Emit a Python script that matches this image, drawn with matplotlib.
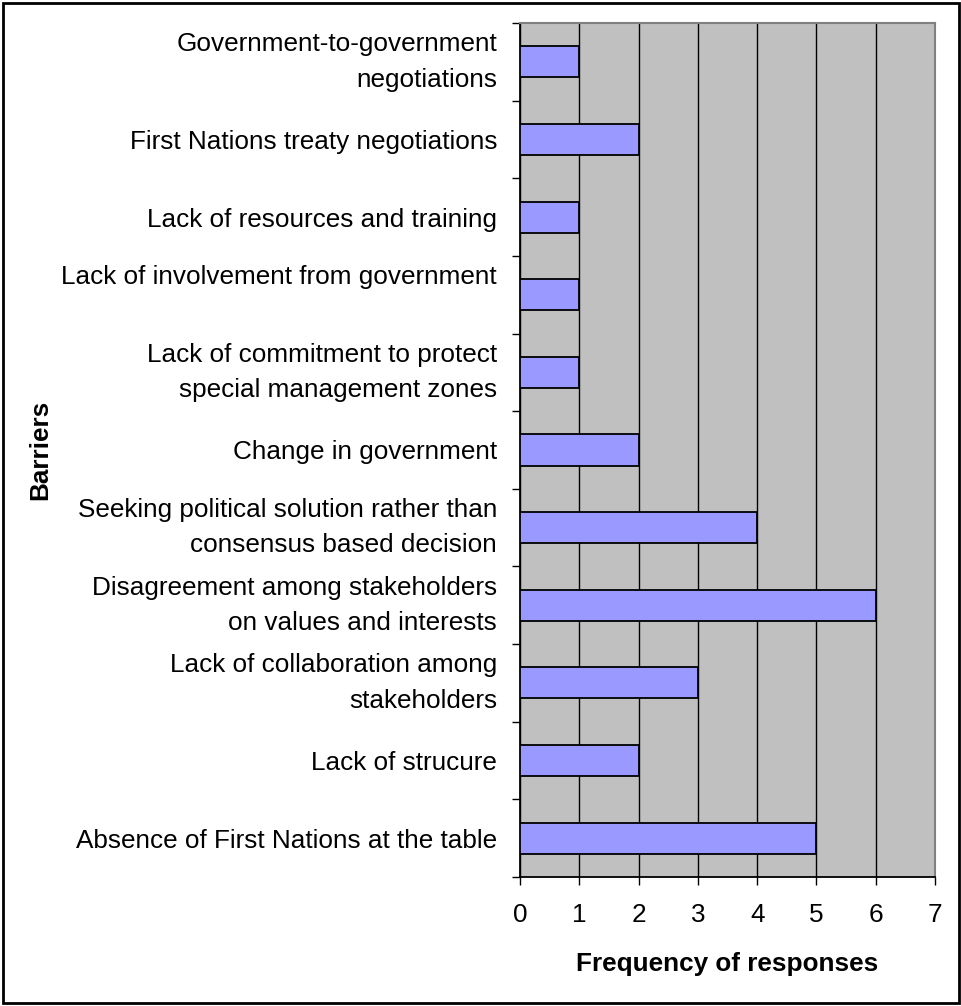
import matplotlib.pyplot as plt
from matplotlib.patches import Rectangle

plt.rcParams['font.family'] = ['Liberation Sans', 'DejaVu Sans']

# Barriers, bottom to top as drawn
barriers = [
    'Absence of First Nations at the table',
    'Lack of strucure',
    'Lack of collaboration among\nstakeholders',
    'Disagreement among stakeholders\non values and interests',
    'Seeking political solution rather than\nconsensus based decision',
    'Change in government',
    'Lack of commitment to protect\nspecial management zones',
    'Lack of involvement from government\n ',
    'Lack of resources and training',
    'First Nations treaty negotiations',
    'Government-to-government\nnegotiations',
]
frequency = [5, 2, 3, 6, 4, 2, 1, 1, 1, 2, 1]

W, H = 962, 1006
fig = plt.figure(figsize=(W / 100, H / 100), dpi=100)
ax = fig.add_axes([520 / W, 1 - 877 / H, (935 - 520) / W, (877 - 23) / H])

ax.set_facecolor('#C0C0C0')
pos = list(range(len(barriers)))
ax.barh(pos, frequency, height=0.4, color='#9999FF', edgecolor='black', linewidth=1.3, zorder=3)

ax.set_xlim(0, 7)
ax.set_ylim(-0.5, len(barriers) - 0.5)
ax.set_xticks(range(8))
ax.xaxis.grid(True, color='black', linewidth=1, zorder=1)

# category labels centred, ticks at boundaries
ax.set_yticks(pos)
ax.set_yticklabels(barriers, fontsize=18.8, linespacing=1.6)
for lab in ax.get_yticklabels():
    if '\n' in lab.get_text():
        lab.set_va('center')
ax.tick_params(axis='y', length=0, pad=16.5)
ax.set_yticks([p - 0.5 for p in pos] + [len(barriers) - 0.5], minor=True)
ax.tick_params(axis='y', which='minor', length=6, width=1)
ax.tick_params(axis='x', length=6, width=1, labelsize=18.8, pad=13)

for s in ['top', 'right']:
    ax.spines[s].set_color('#808080')
    ax.spines[s].set_linewidth(1.5)
for s in ['left', 'bottom']:
    ax.spines[s].set_linewidth(1.3)

ax.set_xlabel('Frequency of responses', fontsize=18.8, fontweight='bold', labelpad=18)
fig.text(40 / W, 1 - 450 / H, 'Barriers', fontsize=18.8, fontweight='bold',
         rotation=90, ha='center', va='center')

fig.patches.append(Rectangle((0.003, 0.003), 0.994, 0.994, transform=fig.transFigure,
                             fill=False, edgecolor='black', linewidth=2))

fig.savefig('out.png', dpi=100)
